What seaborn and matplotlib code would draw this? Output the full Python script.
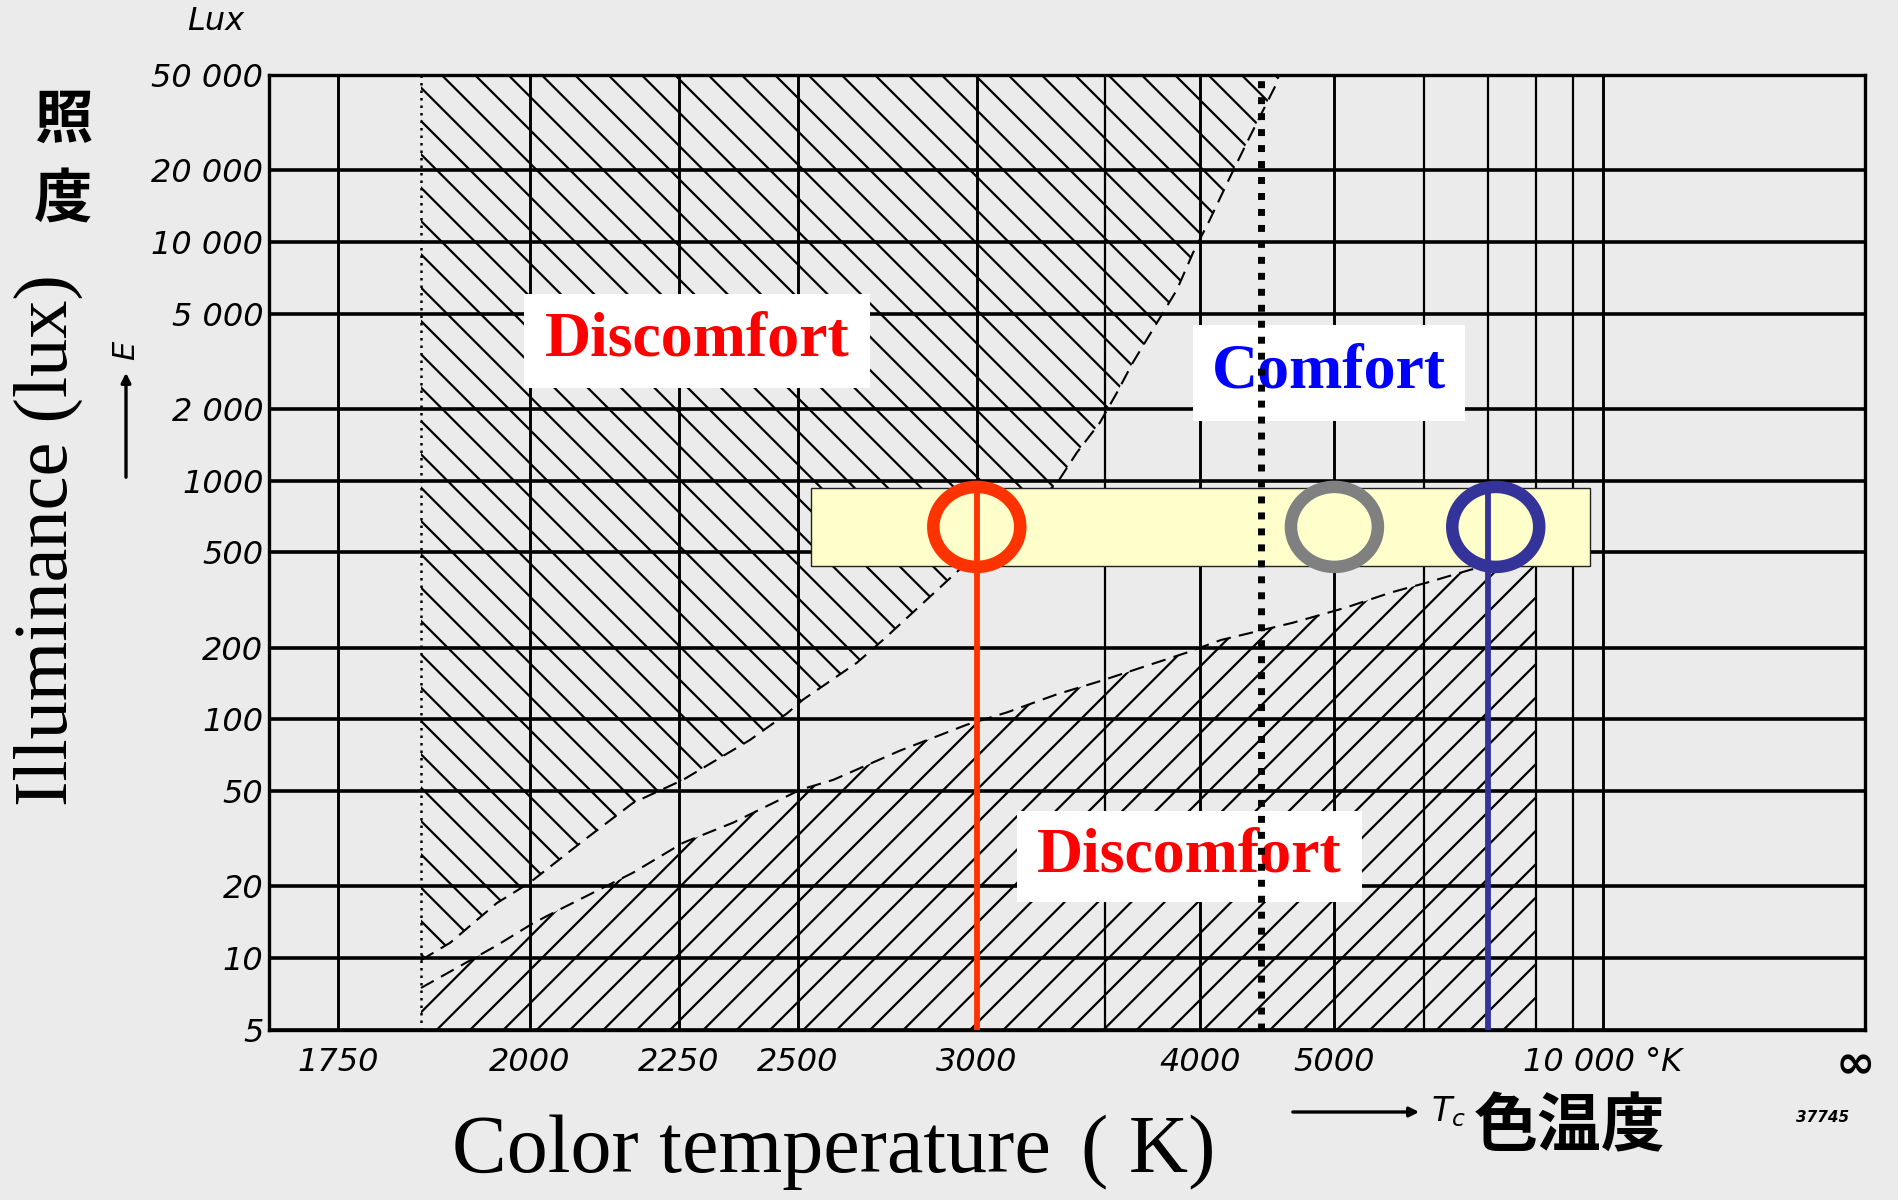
import numpy as np
import matplotlib
matplotlib.use("Agg")
import matplotlib.pyplot as plt
from matplotlib.path import Path
from matplotlib.patches import Rectangle
from matplotlib.ticker import NullLocator, NullFormatter
import seaborn as sns

# ---------------------------------------------------------------------------
# Kruithof comfort chart: illuminance against colour temperature
# (colour temperature on a reciprocal / mired scale, illuminance logarithmic)
# ---------------------------------------------------------------------------

# Edge of the upper discomfort zone (warm light that is too bright)
upper_edge_K = [1850, 1888, 1952, 2000, 2083, 2167, 2258, 2393, 2475, 2512, 2646,
                2715, 2935, 3296, 3378, 3479, 3558, 3635, 3736, 3865, 3957, 4058,
                4184, 4299, 4517, 4530]
upper_edge_lux = [9.8, 11.6, 17, 20.7, 31, 44.7, 55.8, 82, 106, 121, 173,
                  215, 415, 977, 1310, 1750, 2340, 3130, 4300, 6300, 9000, 12400,
                  18600, 26100, 46500, 50000]

# Edge of the lower discomfort zone (cool light that is too dim)
lower_edge_K = [1850, 1952, 2005, 2046, 2167, 2258, 2357, 2505, 2585, 2762, 2967,
                3105, 3292, 3484, 3917, 4127, 4641, 5110, 5589, 6042, 6707, 8000]
lower_edge_lux = [7.5, 11.3, 14, 16, 22.8, 30.4, 36.9, 50.7, 55.8, 73.9, 95,
                  107, 127, 145, 190, 215, 254, 294, 340, 374, 424, 480]

# Usual interior illuminance band
band_K = [2530, 9550]
band_lux = [440, 930]

# Light sources marked inside the band
source_K = [3000, 5000, 7150]
source_lux = [640, 640, 640]
source_colors = ["#FF3300", "#808080", "#333399"]

# Drop lines from the warm and the cool source
drop_K = [3000, 7000]
drop_top_lux = [900, 900]
drop_colors = ["#FF3300", "#333399"]

# Separating dotted line and left edge of the hatched zones
divider_K = 4400
zone_left_K = 1850

# Grid / tick positions
x_major_K = [1750, 2000, 2250, 2500, 3000, 4000, 5000, 10000]
x_major_labels = ["1750", "2000", "2250", "2500", "3000", "4000", "5000", "10 000 °K"]
x_minor_K = [3500, 6000, 7000, 8000, 9000]
y_ticks = [5, 10, 20, 50, 100, 200, 500, 1000, 2000, 5000, 10000, 20000, 50000]
y_labels = ["5", "10", "20", "50", "100", "200", "500", "1000", "2 000", "5 000",
            "10 000", "20 000", "50 000"]

# ---------------------------------------------------------------------------
sns.set_theme(style="white")
bg = "#EBEBEB"
plt.rcParams.update({
    "figure.facecolor": bg,
    "axes.facecolor": bg,
    "hatch.color": "black",
    "hatch.linewidth": 1.6,
    "text.color": "black",
    "xtick.color": "black",
    "ytick.color": "black",
    "xtick.labelcolor": "black",
    "ytick.labelcolor": "black",
    "font.family": ["DejaVu Sans"],
})

W, H = 1899, 1200
fig = plt.figure(figsize=(W / 100, H / 100), dpi=100)
ax = fig.add_axes([269 / W, 1 - 1030 / H, (1865 - 269) / W, (1030 - 75) / H])


def to_mired(t):
    t = np.asarray(t, dtype=float)
    with np.errstate(divide="ignore", invalid="ignore"):
        return -1e6 / t


def from_mired(u):
    u = np.asarray(u, dtype=float)
    with np.errstate(divide="ignore", invalid="ignore"):
        return -1e6 / u


ax.set_xscale("function", functions=(to_mired, from_mired))
ax.set_yscale("log")
XLIM = (1e6 / 597.2, 1e6 / 2.2)
YLIM = (5, 50000)
ax.set_xlim(*XLIM)
ax.set_ylim(*YLIM)

# hatched discomfort zones
ax.fill_between(upper_edge_K, upper_edge_lux, YLIM[1], facecolor="none",
                edgecolor="black", linewidth=0, hatch="\\", zorder=1)
ax.fill_between(lower_edge_K, YLIM[0], lower_edge_lux, facecolor="none",
                edgecolor="black", linewidth=0, hatch="/", zorder=1)

# dashed outlines of the zones
sns.lineplot(x=upper_edge_K, y=upper_edge_lux, estimator=None, sort=False, ax=ax,
             color="black", linewidth=1.5, linestyle=(0, (7, 4)), zorder=2)
sns.lineplot(x=lower_edge_K, y=lower_edge_lux, estimator=None, sort=False, ax=ax,
             color="black", linewidth=1.5, linestyle=(0, (7, 4)), zorder=2)
ax.vlines(zone_left_K, YLIM[0], YLIM[1], colors="black", linewidth=1.8,
          linestyles=(0, (1, 2)), zorder=2)

# interior illuminance band
ax.add_patch(Rectangle((band_K[0], band_lux[0]), band_K[1] - band_K[0],
                       band_lux[1] - band_lux[0], facecolor="#FFFFCC",
                       edgecolor="#222222", linewidth=1.0, zorder=3))

# drop lines
for k, top, c in zip(drop_K, drop_top_lux, drop_colors):
    ax.vlines(k, YLIM[0], top, colors=c, linewidth=4.2, zorder=6)

# source rings
theta = np.linspace(0, 2 * np.pi, 97)
ring = Path(np.column_stack([np.cos(theta), 0.92 * np.sin(theta)]), closed=True)
sns.scatterplot(x=source_K, y=source_lux, marker=ring, s=3920, linewidth=9.0,
                ax=ax, zorder=7, legend=False)
rings = ax.collections[-1]
rings.set_facecolor("none")
rings.set_edgecolor(source_colors)

# white label boxes and labels
boxes = [
    ((524 - 269) / 1596, 1 - (388 - 75) / 955, 346 / 1596, 94 / 955,
     "Discomfort", "#FF0000"),
    ((1193 - 269) / 1596, 1 - (421 - 75) / 955, 272 / 1596, 96 / 955,
     "Comfort", "#0000FF"),
    ((1017 - 269) / 1596, 1 - (902 - 75) / 955, 345 / 1596, 91 / 955,
     "Discomfort", "#FF0000"),
]
for bx, by, bw, bh, txt, col in boxes:
    ax.add_patch(Rectangle((bx, by), bw, bh, transform=ax.transAxes,
                           facecolor="white", edgecolor="none", zorder=5))
    ax.text(bx + bw / 2, by + bh / 2, txt, transform=ax.transAxes, ha="center",
            va="center", color=col, fontsize=46, fontweight="bold",
            family=["Liberation Serif"], zorder=6)

# dotted divider, drawn on top of everything
ax.axvline(divider_K, color="black", linewidth=5, linestyle=(0, (1, 1.3)), zorder=8)

# grid & ticks
ax.set_xticks(x_major_K, labels=x_major_labels, fontsize=23, fontstyle="italic")
ax.set_xticks(x_minor_K, minor=True)
ax.xaxis.set_minor_formatter(NullFormatter())
ax.set_yticks(y_ticks, labels=y_labels, fontsize=23, fontstyle="italic")
ax.yaxis.set_minor_locator(NullLocator())
ax.tick_params(which="both", length=0, labelcolor="black")
ax.tick_params(axis="x", pad=12)
ax.tick_params(axis="y", pad=4)
ax.grid(False)
ax.xaxis.grid(True, which="major", color="black", linewidth=2.1)
ax.xaxis.grid(True, which="minor", color="black", linewidth=1.6)
ax.yaxis.grid(True, which="major", color="black", linewidth=2.6)
ax.set_axisbelow(True)
for s in ax.spines.values():
    s.set_visible(True)
    s.set_color("black")
    s.set_linewidth(2.4)
ax.set_xlabel("")
ax.set_ylabel("")
ax.set_xlim(*XLIM)
ax.set_ylim(*YLIM)


def fx(px):
    return px / W


def fy(py):
    return 1 - py / H


cjk = ["Noto Sans CJK JP", "DejaVu Sans"]
serif = ["Liberation Serif"]

# infinity end of the reciprocal scale
fig.text(fx(1855), fy(1066), "∞", ha="center", va="center", fontsize=34,
         fontweight="bold")

# axis titles
fig.text(fx(216), fy(22), "Lux", ha="center", va="center", fontsize=23,
         fontstyle="italic")
fig.text(fx(63), fy(121), "照", ha="center", va="center", fontsize=42,
         fontweight="bold", family=cjk)
fig.text(fx(63), fy(200), "度", ha="center", va="center", fontsize=42,
         fontweight="bold", family=cjk)
fig.text(fx(48), fy(540), "Illuminance (lux)", ha="center", va="center",
         rotation=90, fontsize=55, family=serif)
fig.text(fx(126), fy(350), "E", ha="center", va="center", rotation=90,
         fontsize=22, fontstyle="italic")
ax.annotate("", xy=(fx(126), fy(370)), xytext=(fx(126), fy(480)),
            xycoords="figure fraction", textcoords="figure fraction",
            arrowprops=dict(arrowstyle="-|>", color="black", lw=2.4,
                            mutation_scale=14), annotation_clip=False)

fig.text(fx(452), fy(1172), "Color temperature", ha="left", va="baseline",
         fontsize=59, family=serif)
fig.text(fx(1081), fy(1172), "( K)", ha="left", va="baseline",
         fontsize=59, family=serif)
ax.annotate("", xy=(fx(1422), fy(1112)), xytext=(fx(1290), fy(1112)),
            xycoords="figure fraction", textcoords="figure fraction",
            arrowprops=dict(arrowstyle="-|>", color="black", lw=2.4,
                            mutation_scale=14), annotation_clip=False)
fig.text(fx(1448), fy(1112), r"$T_c$", ha="center", va="center", fontsize=24)
fig.text(fx(1570), fy(1128), "色温度", ha="center", va="center", fontsize=46,
         fontweight="bold", family=cjk)
fig.text(fx(1823), fy(1117), "37745", ha="center", va="center", fontsize=11,
         fontstyle="italic", fontweight="bold")

fig.savefig("out.png", dpi=100, facecolor=bg)
